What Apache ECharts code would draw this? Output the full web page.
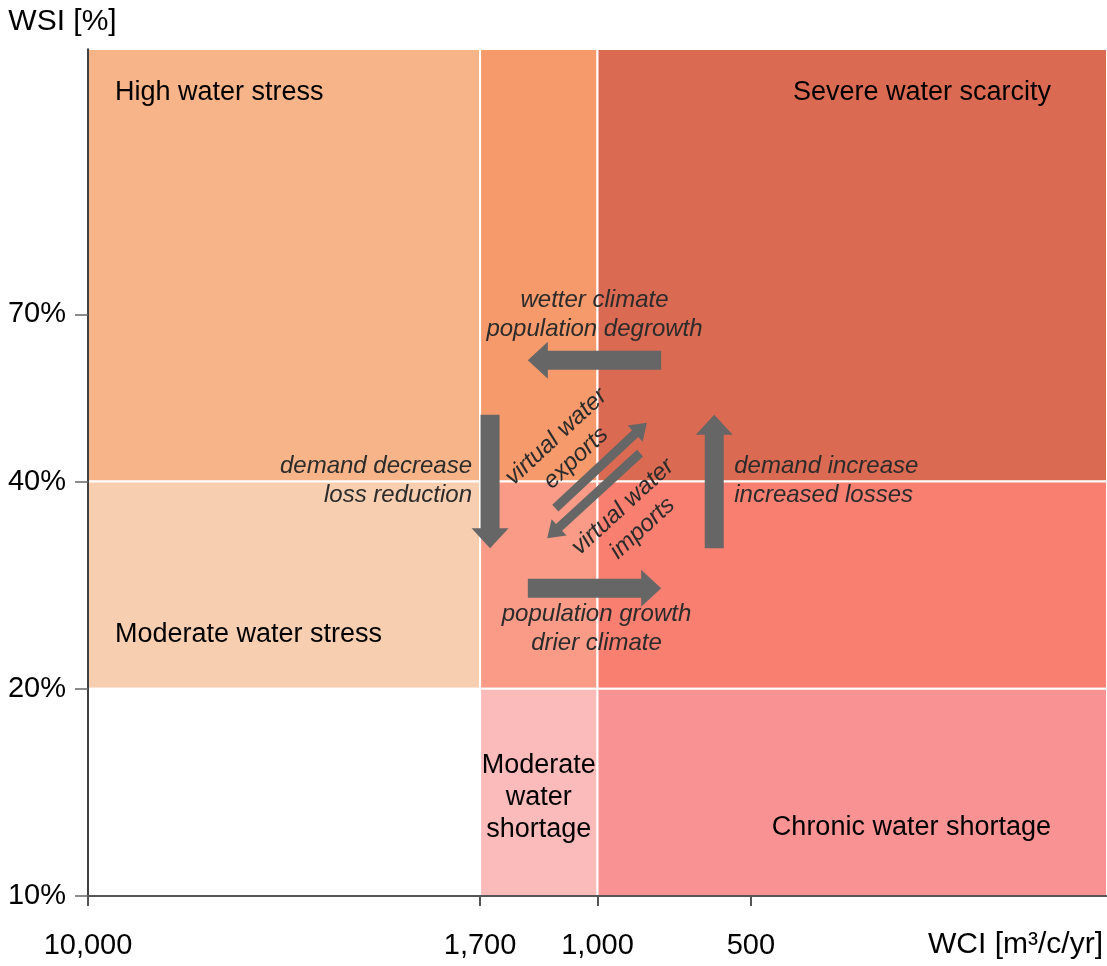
<!DOCTYPE html>
<html><head><meta charset="utf-8">
<script src="https://cdn.jsdelivr.net/npm/echarts@6/dist/echarts.min.js"></script>
<style>html,body{margin:0;padding:0;background:#fff}#c{width:1107px;height:966px}</style>
</head><body><div id="c"></div>
<script>
// ---- data ----
const wciTicks = [10000, 1700, 1000, 500];          // x tick labels (m3/c/yr)
const wsiTicks = [10, 20, 40, 70];                   // y tick labels (%)
const wciRange = [100, 10000];
const wsiRange = [10, 170];
// regions: [WCI from, WCI to, WSI from, WSI to]
const regions = [
  [10000, 1700, 40, 170],
  [1700, 1000, 40, 170],
  [1000, 100, 40, 170],
  [10000, 1700, 20, 40],
  [1700, 1000, 20, 40],
  [1000, 100, 20, 40],
  [10000, 1700, 10, 20],
  [1700, 1000, 10, 20],
  [1000, 100, 10, 20]
];
const regionNames = [
  'High water stress', '', 'Severe water scarcity',
  'Moderate water stress', '', '',
  '', 'Moderate\nwater\nshortage', 'Chronic water shortage'
];
// arrows: [WCI tail, WSI tail, WCI head, WSI head, kind]
const arrows = [
  [750, 60, 1370, 60, 0],
  [1625, 50, 1625, 32, 0],
  [1370, 28, 750, 28, 0],
  [590, 32, 590, 50, 0],
  [1210, 36.6, 800, 48.7, 1],
  [825, 44, 1255, 33.1, 1]
];
const arrowNotes = [
  'wetter climate\npopulation degrowth',
  'demand decrease\nloss reduction',
  'population growth\ndrier climate',
  'demand increase\nincreased losses',
  'virtual water\nexports',
  'virtual water\nimports'
];

// ---- styles ----
const FONT = "'Liberation Sans', Arial, Helvetica, sans-serif";
const regionColors = ['#F7B489', '#F69A6B', '#DB6A52', '#F8CEB0', '#F99B87', '#F97F70', '#FFFFFF', '#FBBBBB', '#F99293'];
const regionLabelPlace = [
  {pos: 'tl', dx: 27, dy: 44}, null, {pos: 'tr', dx: -56, dy: 44},
  {pos: 'bl', dx: 27, dy: -54}, null, null,
  null, {pos: 'c', dx: 0, dy: 5}, {pos: 'br', dx: -56, dy: -68}
];
const arrowSizes = [{w: 9.5, hw: 18.5, head: 20}, {w: 4.5, hw: 11, head: 16}];
const notePlace = [
  {dx: 0, dy: -46, align: 'center', rot: false},
  {dx: -18, dy: -1, align: 'right', rot: false},
  {dx: 2, dy: 41, align: 'center', rot: false},
  {dx: 20, dy: -1, align: 'left', rot: false},
  {dx: -35, dy: -18, align: 'center', rot: true},
  {dx: 39, dy: 22, align: 'center', rot: true}
];

function renderRegion(params, api) {
  const i = params.dataIndex;
  const p0 = api.coord([api.value(0), api.value(2)]);
  const p1 = api.coord([api.value(1), api.value(3)]);
  const x = Math.min(p0[0], p1[0]), y = Math.min(p0[1], p1[1]);
  const w = Math.abs(p1[0] - p0[0]), h = Math.abs(p1[1] - p0[1]);
  const children = [{
    type: 'rect', shape: {x: x, y: y, width: w, height: h},
    style: {fill: regionColors[i], stroke: '#ffffff', lineWidth: 2}
  }];
  const name = regionNames[i], pl = regionLabelPlace[i];
  if (name && pl) {
    let tx, ty, align = 'left';
    if (pl.pos === 'tl') { tx = x + pl.dx; ty = y + pl.dy; align = 'left'; }
    else if (pl.pos === 'tr') { tx = x + w + pl.dx; ty = y + pl.dy; align = 'right'; }
    else if (pl.pos === 'bl') { tx = x + pl.dx; ty = y + h + pl.dy; align = 'left'; }
    else if (pl.pos === 'br') { tx = x + w + pl.dx; ty = y + h + pl.dy; align = 'right'; }
    else { tx = x + w / 2 + pl.dx; ty = y + h / 2 + pl.dy; align = 'center'; }
    children.push({
      type: 'text', x: tx, y: ty, z2: 5,
      style: {text: name, fill: '#000', fontSize: 27, fontFamily: FONT,
              align: align, verticalAlign: 'middle', lineHeight: 32}
    });
  }
  return {type: 'group', children: children};
}

function renderArrow(params, api) {
  const i = params.dataIndex;
  const a = api.coord([api.value(0), api.value(1)]);
  const b = api.coord([api.value(2), api.value(3)]);
  const s = arrowSizes[api.value(4)];
  const dx = b[0] - a[0], dy = b[1] - a[1];
  const L = Math.hypot(dx, dy);
  const ux = dx / L, uy = dy / L, nx = -uy, ny = ux;
  const hb = [b[0] - ux * s.head, b[1] - uy * s.head];
  const pts = [
    [a[0] + nx * s.w, a[1] + ny * s.w],
    [hb[0] + nx * s.w, hb[1] + ny * s.w],
    [hb[0] + nx * s.hw, hb[1] + ny * s.hw],
    [b[0], b[1]],
    [hb[0] - nx * s.hw, hb[1] - ny * s.hw],
    [hb[0] - nx * s.w, hb[1] - ny * s.w],
    [a[0] - nx * s.w, a[1] - ny * s.w]
  ];
  const np = notePlace[i];
  const mx = (a[0] + b[0]) / 2 + np.dx, my = (a[1] + b[1]) / 2 + np.dy;
  let ang = 0;
  if (np.rot) {
    ang = Math.atan2(-dy, dx);
    if (ang > Math.PI / 2) ang -= Math.PI;
    if (ang < -Math.PI / 2) ang += Math.PI;
  }
  return {type: 'group', children: [
    {type: 'polygon', shape: {points: pts}, style: {fill: '#666666'}},
    {type: 'text', x: mx, y: my, rotation: ang, z2: 5,
     style: {text: arrowNotes[i], fill: '#2b2b2b', fontSize: 24, fontStyle: 'italic',
             fontFamily: FONT, align: np.align, verticalAlign: 'middle', lineHeight: 29}}
  ]};
}

const chart = echarts.init(document.getElementById('c'), null, {renderer: 'canvas'});
chart.setOption({
  animation: false,
  backgroundColor: '#ffffff',
  grid: {left: 88, right: 0, top: 49, bottom: 70, containLabel: false},
  xAxis: {
    type: 'log', logBase: 10, min: wciRange[0], max: wciRange[1], inverse: true, z: 10,
    name: 'WCI [m³/c/yr]', nameLocation: 'start', nameGap: 0,
    nameTextStyle: {fontSize: 30, color: '#000', fontFamily: FONT, align: 'right',
                    verticalAlign: 'top', padding: [34, 4, 0, 0]},
    splitLine: {show: false}, minorTick: {show: false},
    axisLine: {show: true, lineStyle: {color: '#555', width: 2}},
    axisTick: {show: true, customValues: wciTicks, length: 10, lineStyle: {color: '#555', width: 2}},
    axisLabel: {customValues: wciTicks, fontSize: 29, color: '#000', fontFamily: FONT, margin: 35,
                formatter: function (v) { return Number(v).toLocaleString('en-US'); }}
  },
  yAxis: {
    type: 'log', logBase: 10, min: wsiRange[0], max: wsiRange[1], z: 10,
    name: 'WSI [%]', nameLocation: 'end', nameGap: 27,
    nameTextStyle: {fontSize: 30, color: '#000', fontFamily: FONT, align: 'center',
                    verticalAlign: 'middle', padding: [0, 51, 0, 0]},
    splitLine: {show: false}, minorTick: {show: false},
    axisLine: {show: true, lineStyle: {color: '#000', width: 1.5}},
    axisTick: {show: true, customValues: wsiTicks, length: 13, lineStyle: {color: '#666', width: 1.5}},
    axisLabel: {customValues: wsiTicks, fontSize: 29, color: '#000', fontFamily: FONT, margin: 22,
                formatter: function (v) { return Math.round(v) + '%'; }}
  },
  series: [
    {type: 'custom', name: 'regions', renderItem: renderRegion, data: regions,
     encode: {x: [0, 1], y: [2, 3]}, z: 1, silent: true},
    {type: 'custom', name: 'arrows', renderItem: renderArrow, data: arrows,
     encode: {x: [0, 2], y: [1, 3]}, z: 3, silent: true}
  ]
});
</script>
</body></html>
